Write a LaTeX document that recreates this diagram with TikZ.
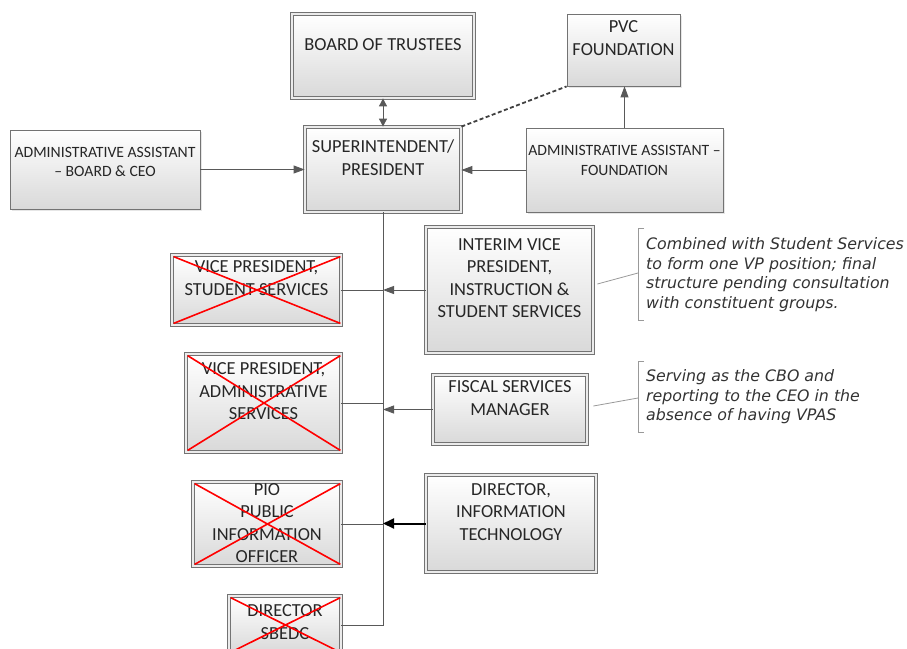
\documentclass[tikz,border=0pt]{standalone}
\usepackage{fontspec}
\setmainfont{Carlito}
\newfontfamily\notefont{DejaVu Sans Oblique}
\usetikzlibrary{arrows.meta,shadows}

% text block of a box, lifted above the box centre
\newcommand{\boxlines}[2][5.5pt]{\raisebox{#1}[0pt][0pt]{\begin{tabular}{@{}c@{}}#2\end{tabular}}}
% red cross over a vacant post
\newcommand{\crossbox}[1]{%
  \draw[cross] ([shift={(2pt,-2pt)}]#1.north west) -- ([shift={(-1pt,2pt)}]#1.south east);
  \draw[cross] ([shift={(2pt,2pt)}]#1.south west) -- ([shift={(-1pt,-2pt)}]#1.north east);}

\begin{document}
\begin{tikzpicture}[x=1pt, y=-1pt,
    plain/.style={draw=black!55, line width=0.8pt, top color=white, bottom color=black!15,
      inner sep=0pt, text=black!85, font=\fontsize{18.4}{22.5}\selectfont,
      drop shadow={opacity=0.2, shadow xshift=1.5pt, shadow yshift=-1.5pt}},
    post/.style={plain, line width=0.8pt, double=black!8, double distance=1.6pt},
    small/.style={font=\fontsize{15.7}{19.5}\selectfont},
    link/.style={draw=black!65, line width=0.9pt},
    tip/.style={-{Triangle[length=11pt, width=8pt]}},
    heavy/.style={draw=black, line width=2pt, -{Triangle[length=11pt, width=10pt]}},
    cross/.style={draw=red, line width=1.6pt},
    note/.style={align=left, inner xsep=8pt, inner ysep=0pt, text=black!80,
      font=\notefont\fontsize{15.8}{19.5}\selectfont},
    bracket/.style={draw=black!40, line width=0.8pt}]
  \clip (0,0) rectangle (907,648);

  % top of the chart
  \node[post, minimum width=182pt, minimum height=84pt] (board) at (383,56) {\boxlines{BOARD OF TRUSTEES}};
  \node[plain, minimum width=113pt, minimum height=72pt] (pvc) at (623.5,50) {\boxlines[6pt]{PVC\\FOUNDATION}};
  \node[post, minimum width=156pt, minimum height=85pt] (super) at (383,169.5) {\boxlines{SUPERINTENDENT/\\PRESIDENT}};
  \node[plain, small, minimum width=190pt, minimum height=79pt] (aaboard) at (105,169.5)
    {\boxlines[3pt]{ADMINISTRATIVE ASSISTANT\\– BOARD \& CEO}};
  \node[plain, small, minimum width=197pt, minimum height=84pt] (aafound) at (624.5,170)
    {\boxlines[5pt]{ADMINISTRATIVE ASSISTANT –\\FOUNDATION}};

  % posts below the president
  \node[post, minimum width=169pt, minimum height=70pt] (vpss) at (256.5,290) {\boxlines[6pt]{VICE PRESIDENT,\\STUDENT SERVICES}};
  \node[post, minimum width=167pt, minimum height=126pt] (interim) at (509.5,290)
    {\boxlines[6pt]{INTERIM VICE\\PRESIDENT,\\INSTRUCTION \&\\STUDENT SERVICES}};
  \node[post, minimum width=155pt, minimum height=98pt] (vpas) at (263.5,403)
    {\boxlines[6pt]{VICE PRESIDENT,\\ADMINISTRATIVE\\SERVICES}};
  \node[post, minimum width=154pt, minimum height=69pt] (fiscal) at (510,409.5) {\boxlines{FISCAL SERVICES\\MANAGER}};
  \node[post, minimum width=148pt, minimum height=84pt] (pio) at (267,524)
    {\boxlines[-4.6pt]{PIO\\PUBLIC\\INFORMATION\\OFFICER}};
  \node[post, minimum width=170pt, minimum height=97pt] (dirit) at (511,523.5)
    {\boxlines[6pt]{DIRECTOR,\\INFORMATION\\TECHNOLOGY}};
  \node[post, minimum width=112pt, minimum height=58pt] (sbedc) at (285,625) {\boxlines[-2.6pt]{DIRECTOR\\SBEDC}};

  \crossbox{vpss}
  \crossbox{vpas}
  \crossbox{pio}
  \crossbox{sbedc}

  % connectors
  \draw[link, {Triangle[length=8pt, width=8pt]}-{Triangle[length=8pt, width=8pt]}] (board.south) -- (super.north);
  \draw[link, tip] (aaboard.east) -- (super.west);
  \draw[link, tip] (aafound.west) -- (aafound.west -| super.east);
  \draw[link, tip] (aafound.north) -- (aafound.north |- pvc.south);
  \draw[link, draw=black!75, line width=1.8pt, dash pattern=on 4pt off 2.5pt] (super.north east) -- (pvc.south west);
  \draw[link] (super.south) |- (sbedc.east);
  \draw[link] (vpss.east) -- (vpss.east -| super.south);
  \draw[link, tip] (interim.west) -- (interim.west -| super.south);
  \draw[link] (vpas.east) -- (vpas.east -| super.south);
  \draw[link, tip] (fiscal.west) -- (fiscal.west -| super.south);
  \draw[link] (pio.east) -- (pio.east -| super.south);
  \draw[heavy] (dirit.west) -- (dirit.west -| super.south);

  % side notes
  \node[note, minimum height=91pt, anchor=west] (note1) at (638,274.5)
    {Combined with Student Services\\to form one VP position; final\\structure pending consultation\\with constituent groups.};
  \node[note, minimum height=70pt, anchor=west] (note2) at (638,397)
    {Serving as the CBO and\\reporting to the CEO in the\\absence of having VPAS};
  \draw[bracket] ([xshift=6pt]note1.north west) -- (note1.north west) -- (note1.south west) -- ([xshift=6pt]note1.south west);
  \draw[bracket] ([xshift=6pt]note2.north west) -- (note2.north west) -- (note2.south west) -- ([xshift=6pt]note2.south west);
  \draw[bracket] ([shift={(4pt,6pt)}]interim.east) -- ([yshift=1.5pt]note1.west);
  \draw[bracket] ([shift={(6pt,3.5pt)}]fiscal.east) -- ([yshift=-1pt]note2.west);
\end{tikzpicture}
\end{document}
